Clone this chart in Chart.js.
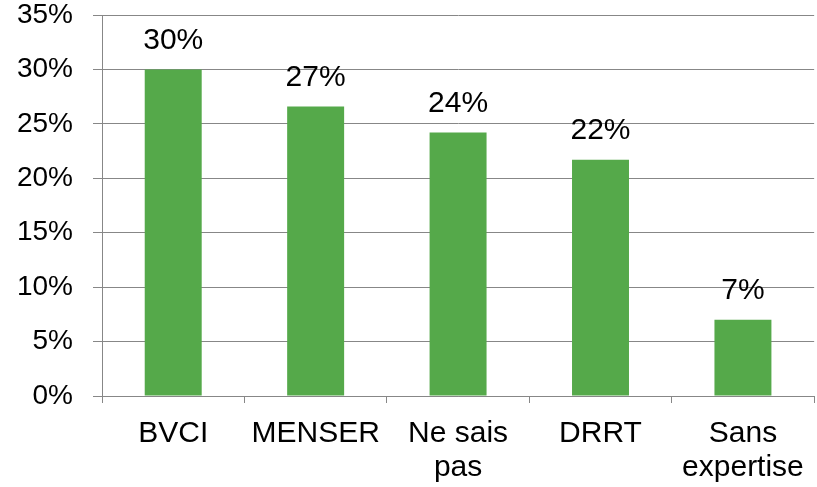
<!DOCTYPE html>
<html>
<head>
<meta charset="utf-8">
<script src="https://cdn.jsdelivr.net/npm/chart.js"></script>
<style>
  html, body { margin: 0; padding: 0; background: white; }
  #wrap { width: 817px; height: 487px; }
</style>
</head>
<body>
<div id="wrap"><canvas id="myChart" width="817" height="487"></canvas></div>
<script>
const categories = ["BVCI", "MENSER", ["Ne sais", "pas"], "DRRT", ["Sans", "expertise"]];
const values = [30, 26.6, 24.2, 21.7, 7];
const valueLabels = ["30%", "27%", "24%", "22%", "7%"];

Chart.defaults.font.family = "'Liberation Sans', Arial, sans-serif";
Chart.defaults.color = 'black';

// étiquettes au-dessus des barres
const barLabels = {
    id: 'barLabels',
    afterDatasetsDraw(chart) {
        const ctx = chart.ctx;
        const meta = chart.getDatasetMeta(0);
        ctx.save();
        ctx.font = "30px 'Liberation Sans', Arial, sans-serif";
        ctx.fillStyle = 'black';
        ctx.textAlign = 'center';
        ctx.textBaseline = 'middle';
        meta.data.forEach((bar, i) => {
            ctx.fillText(valueLabels[i], bar.x, bar.y - 29);
        });
        ctx.restore();
    }
};

new Chart(document.getElementById('myChart'), {
    type: "bar",
    data: {
        labels: categories,
        datasets: [{
            data: values,
            backgroundColor: "#55A94A",
            barPercentage: 0.4,
            categoryPercentage: 1.0
        }]
    },
    options: {
        responsive: false,
        animation: false,
        layout: { padding: { top: 0, right: 2, left: 0, bottom: 0 } },
        plugins: {
            legend: { display: false },
            tooltip: { enabled: false }
        },
        scales: {
            x: {
                grid: {
                    offset: true,
                    drawOnChartArea: false,
                    color: '#878787',
                    tickLength: 7
                },
                border: { color: '#878787' },
                ticks: {
                    font: { size: 30, lineHeight: 1.15 },
                    color: 'black',
                    padding: 13,
                    maxRotation: 0,
                    autoSkip: false
                },
                afterFit(scale) { scale.height = 91; }
            },
            y: {
                min: 0,
                max: 35,
                grid: { color: '#878787', tickLength: 9 },
                border: { color: '#878787' },
                ticks: {
                    stepSize: 5,
                    font: { size: 28 },
                    color: 'black',
                    padding: 20,
                    callback: v => v + '%'
                },
                afterFit(scale) {
                    scale.width = 102;
                    scale.paddingTop = 15;
                    scale.paddingBottom = 0;
                }
            }
        }
    },
    plugins: [barLabels]
});
</script>
</body>
</html>
